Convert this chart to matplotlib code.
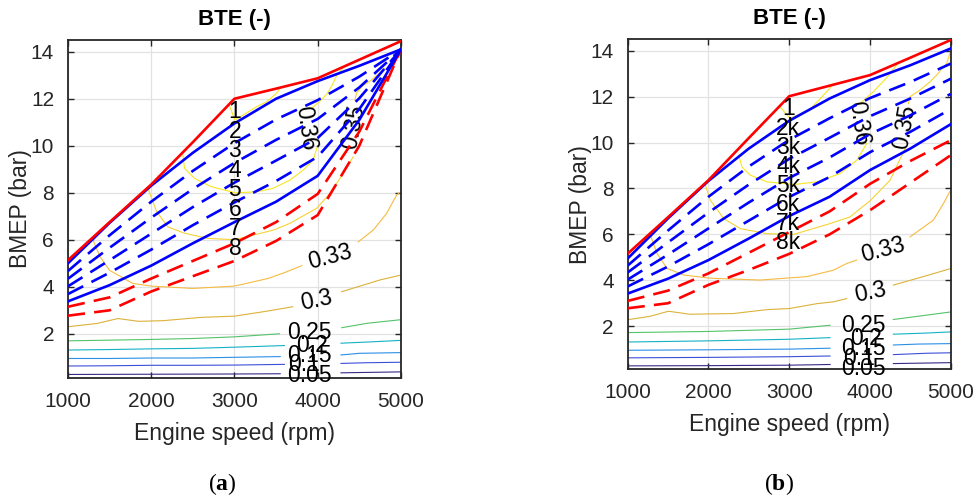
import matplotlib.pyplot as plt

plt.rcParams['font.family'] = ['Liberation Sans', 'DejaVu Sans']
plt.rcParams['mathtext.fontset'] = 'custom'
plt.rcParams['mathtext.bf'] = 'Liberation Serif:bold'
plt.rcParams['mathtext.rm'] = 'Liberation Serif'

# --- engine speed grid of the operating lines ---
RPM = [1000, 1500, 2000, 2500, 3000, 3500, 4000, 4500, 5000]

# --- panel (a): operating lines (BMEP, bar) ---
red_top_a = [5.13, 6.75, 8.35, 10.15, 12.0, 12.43, 12.87, 13.66, 14.45]
blue_top_a = [5.0, 6.72, 8.3, 9.7, 10.95, 12.0, 12.75, 13.4, 14.1]
blue_dash_a = [
    [4.67, 6.19, 7.62, 8.93, 10.11, 11.12, 11.94, 12.94, 14.1],
    [4.34, 5.66, 6.94, 8.16, 9.27, 10.25, 11.14, 12.48, 14.1],
    [4.02, 5.13, 6.26, 7.39, 8.43, 9.37, 10.33, 12.02, 14.1],
    [3.69, 4.6, 5.58, 6.62, 7.59, 8.5, 9.53, 11.56, 14.1],
]
blue_low_a = [3.38, 4.07, 4.9, 5.85, 6.75, 7.62, 8.72, 11.1, 14.1]
red_dash_a = [
    [3.15, 3.55, 4.35, 5.1, 5.85, 6.75, 7.95, 10.6, 14.1],
    [2.77, 3.0, 3.8, 4.45, 5.1, 5.95, 7.05, 10.0, 14.1],
]

# --- panel (b): operating lines ---
red_top_b = [5.16, 6.75, 8.36, 10.2, 12.02, 12.48, 12.94, 13.7, 14.47]
blue_top_b = [4.95, 6.7, 8.33, 9.74, 10.95, 11.92, 12.72, 13.37, 14.1]
blue_dash_b = [
    [4.64, 6.17, 7.64, 8.96, 10.12, 11.06, 11.94, 12.64, 13.44],
    [4.34, 5.65, 6.95, 8.17, 9.29, 10.21, 11.15, 11.92, 12.78],
    [4.03, 5.12, 6.26, 7.39, 8.46, 9.35, 10.37, 11.19, 12.12],
    [3.73, 4.6, 5.57, 6.6, 7.63, 8.5, 9.58, 10.47, 11.46],
]
blue_low_b = [3.42, 4.07, 4.88, 5.82, 6.8, 7.64, 8.8, 9.74, 10.8]
red_dash_b = [
    [3.1, 3.55, 4.3, 5.2, 6.1, 7.0, 8.2, 9.2, 10.1],
    [2.78, 3.0, 3.8, 4.45, 5.15, 6.0, 7.05, 8.25, 9.45],
]

# --- BTE iso-lines, visible segments (rpm list, bmep list) ---
levels = [0.05, 0.1, 0.15, 0.2, 0.25, 0.3, 0.33, 0.35, 0.36]
level_colors = ['#352a87', '#3d4fd9', '#2c8fe6', '#14b1c4', '#55c26a',
                '#dcb23a', '#f5bb42', '#f7d233', '#f8e61f']

bte_a = {
    0.05: [([1000, 2000, 3000, 3550], [0.27, 0.28, 0.29, 0.3]),
           ([4280, 5000], [0.34, 0.38])],
    0.1: [([1000, 1500, 2000, 2500, 3000, 3600], [0.63, 0.64, 0.66, 0.66, 0.67, 0.7]),
          ([4280, 4600, 5000], [0.74, 0.77, 0.79])],
    0.15: [([1000, 1500, 2000, 2500, 3000, 3550], [0.95, 0.95, 0.97, 0.97, 1.0, 1.03]),
           ([4280, 4500, 5000], [1.1, 1.17, 1.2])],
    0.2: [([1000, 1500, 2000, 2500, 3000, 3600], [1.31, 1.33, 1.36, 1.38, 1.43, 1.5]),
          ([4280, 4600, 5000], [1.6, 1.65, 1.72])],
    0.25: [([1000, 1500, 2000, 2500, 3000, 3540], [1.7, 1.73, 1.76, 1.8, 1.87, 2.0]),
           ([4290, 4600, 5000], [2.26, 2.45, 2.6])],
    0.3: [([1000, 1350, 1600, 1850, 2150, 2600, 3000, 3350, 3700],
           [2.3, 2.44, 2.65, 2.53, 2.56, 2.7, 2.75, 2.94, 3.15]),
          ([4287, 4748, 5000], [3.79, 4.29, 4.5])],
    0.33: [([1300, 1385, 1500, 1780, 2000, 2500, 3000, 3400, 3600, 3810],
            [6.0, 5.28, 4.7, 4.14, 4.03, 3.93, 4.03, 4.35, 4.6, 4.9]),
           ([4487, 4667, 4828, 4948, 5000], [5.91, 6.41, 7.12, 7.9, 8.05])],
    0.35: [([1965, 2065, 2200, 2400, 2680, 3000, 3466, 3667, 3987, 4147, 4267, 4427],
            [8.15, 7.2, 6.55, 6.28, 6.06, 6.0, 6.41, 6.7, 7.34, 7.97, 8.61, 9.53]),
           ([4447, 4467, 4527, 4647, 4808], [11.94, 12.23, 12.51, 12.8, 13.29])],
    0.36: [([2381, 2401, 2521, 2722, 3006, 3266, 3466, 3667, 3827, 3947, 3990],
            [9.6, 9.04, 8.61, 8.26, 8.0, 8.04, 8.19, 8.54, 8.97, 9.39, 9.9]),
           ([3930, 4030, 4110, 4170, 4230, 4300], [11.6, 11.9, 12.2, 12.55, 13.0, 13.3]),
           ([2945, 3006, 3106, 3266, 3386, 3506, 3547],
            [11.66, 11.09, 11.31, 11.66, 11.87, 12.23, 12.44])],
}

bte_b = {
    0.05: [([1000, 2000, 3000, 3506], [0.27, 0.28, 0.3, 0.33]),
           ([4290, 5000], [0.37, 0.41])],
    0.1: [([1000, 2000, 3000, 3506], [0.62, 0.64, 0.67, 0.7]),
          ([4290, 4700, 5000], [0.76, 0.82, 0.84])],
    0.15: [([1000, 2000, 3000, 3506], [0.95, 0.97, 1.0, 1.04]),
           ([4290, 4600, 5000], [1.18, 1.22, 1.24])],
    0.2: [([1000, 2000, 3000, 3506], [1.31, 1.36, 1.43, 1.5]),
          ([4290, 4700, 5000], [1.65, 1.7, 1.75])],
    0.25: [([1000, 2000, 3000, 3506], [1.72, 1.77, 1.87, 2.04]),
           ([4290, 4700, 5000], [2.29, 2.48, 2.62])],
    0.3: [([1000, 1277, 1504, 1772, 2309, 2721, 3006, 3341, 3547, 3712],
           [2.28, 2.43, 2.65, 2.52, 2.55, 2.72, 2.77, 2.98, 3.06, 3.2]),
          ([4290, 4650, 5000], [3.79, 4.15, 4.51])],
    0.33: [([1280, 1363, 1487, 1693, 2023, 2642, 3220, 3547, 3712, 3836],
            [5.97, 5.17, 4.52, 4.23, 4.09, 4.01, 4.16, 4.44, 4.73, 4.88]),
           ([4496, 4785, 4909, 5000], [5.89, 6.62, 7.34, 7.93])],
    0.35: [([1961, 2023, 2188, 2395, 2725, 3055, 3506, 3753, 4009, 4249, 4435],
            [8.15, 7.49, 6.69, 6.25, 6.03, 6.0, 6.47, 6.76, 7.49, 8.36, 9.74]),
           ([4475, 4496, 4620, 4744, 4826, 4950, 5000],
            [11.7, 12.0, 12.29, 12.65, 12.94, 13.45, 14.0])],
    0.36: [([2374, 2415, 2518, 2725, 3055, 3341, 3630, 3836, 3960],
            [9.45, 8.94, 8.58, 8.29, 8.17, 8.29, 8.65, 9.23, 9.96]),
           ([3876, 4040, 4200, 4331], [11.7, 12.21, 12.8, 13.38]),
           ([2886, 3010, 3258, 3485, 3545], [11.56, 11.05, 11.45, 12.29, 12.57])],
}

# contour labels: text, rpm, bmep, rotation
labels_a = [('0.25', 3905, 2.05, 0), ('0.2', 3930, 1.52, 0), ('0.15', 3905, 1.08, 0),
            ('0.1', 3840, 0.68, 0), ('0.05', 3905, 0.22, 0), ('0.3', 3990, 3.43, 12),
            ('0.33', 4147, 5.28, 15), ('0.35', 4430, 10.8, 80), ('0.36', 3859, 10.75, -82)]
labels_b = [('0.25', 3918, 2.04, 0), ('0.2', 3945, 1.48, 0), ('0.15', 3918, 1.02, 0),
            ('0.1', 3860, 0.6, 0), ('0.05', 3918, 0.16, 0), ('0.3', 4001, 3.49, 12),
            ('0.33', 4166, 5.3, 15), ('0.35', 4434, 10.68, 80), ('0.36', 3857, 10.83, -82)]

# line tags stacked at 3000 rpm
tags_a = ['1', '2', '3', '4', '5', '6', '7', '8']
tags_b = ['1', '2k', '3k', '4k', '5k', '6k', '7k', '8k']
tag_y = [11.47, 10.62, 9.8, 8.96, 8.14, 7.3, 6.47, 5.64]

TXT = '#262626'


def draw_panel(ax, bte, labels, red_top, blue_top, blue_dash, blue_low, red_dash, tags, tag_x):
    for lev, col in zip(levels, level_colors):
        for xs, ys in bte[lev]:
            ax.plot(xs, ys, color=col, lw=0.8, zorder=2)
    for txt, x, y, rot in labels:
        ax.text(x, y, txt, fontsize=16.5, rotation=rot, ha='center', va='center',
                rotation_mode='anchor', clip_on=False, zorder=3)
    for ys in blue_dash:
        ax.plot(RPM, ys, color='blue', lw=1.9, dashes=(6.5, 3.5), zorder=4)
    for ys in red_dash:
        ax.plot(RPM, ys, color='red', lw=1.9, dashes=(6.5, 3.5), zorder=4)
    ax.plot(RPM, blue_top, color='blue', lw=1.9, zorder=5)
    ax.plot(RPM, blue_low, color='blue', lw=1.9, zorder=5)
    ax.plot(RPM, red_top, color='red', lw=1.9, zorder=6)
    for t, y in zip(tags, tag_y):
        ax.text(tag_x, y, t, fontsize=16.5, ha='center', va='center', zorder=7)

    ax.set_xlim(1000, 5000)
    ax.set_ylim(0.12, 14.5)
    ax.set_xticks([1000, 2000, 3000, 4000, 5000])
    ax.set_yticks([2, 4, 6, 8, 10, 12, 14])
    ax.grid(True, color='#e2e2e2', lw=0.9, zorder=0)
    ax.set_axisbelow(True)
    ax.tick_params(direction='in', length=4, width=1, top=True, right=True,
                   labelsize=15, colors=TXT, pad=10)
    for s in ax.spines.values():
        s.set_linewidth(1.3)
        s.set_color(TXT)
    ax.set_title('BTE (-)', fontsize=16, fontweight='bold', color='black', pad=11)
    ax.set_xlabel('Engine speed (rpm)', fontsize=16.5, color=TXT, labelpad=8)
    ax.set_ylabel('BMEP (bar)', fontsize=16.5, color=TXT, labelpad=-1)


fig = plt.figure(figsize=(9.75, 4.99), dpi=100)
ax_a = fig.add_axes([0.0697, 0.2425, 0.3415, 0.6774])
ax_b = fig.add_axes([0.6438, 0.2599, 0.3313, 0.6613])

draw_panel(ax_a, bte_a, labels_a, red_top_a, blue_top_a, blue_dash_a, blue_low_a,
           red_dash_a, tags_a, 3006)
draw_panel(ax_b, bte_b, labels_b, red_top_b, blue_top_b, blue_dash_b, blue_low_b,
           red_dash_b, tags_b, 2988)

# sub-figure captions
for x, letter in [(222, 'a'), (779, 'b')]:
    fig.text(x / 975, 1 - 484 / 499, r'$\mathrm{(}\mathbf{' + letter + r'}\mathrm{)}$',
             fontsize=17, ha='center', va='center')

fig.savefig('out.png', dpi=100)
